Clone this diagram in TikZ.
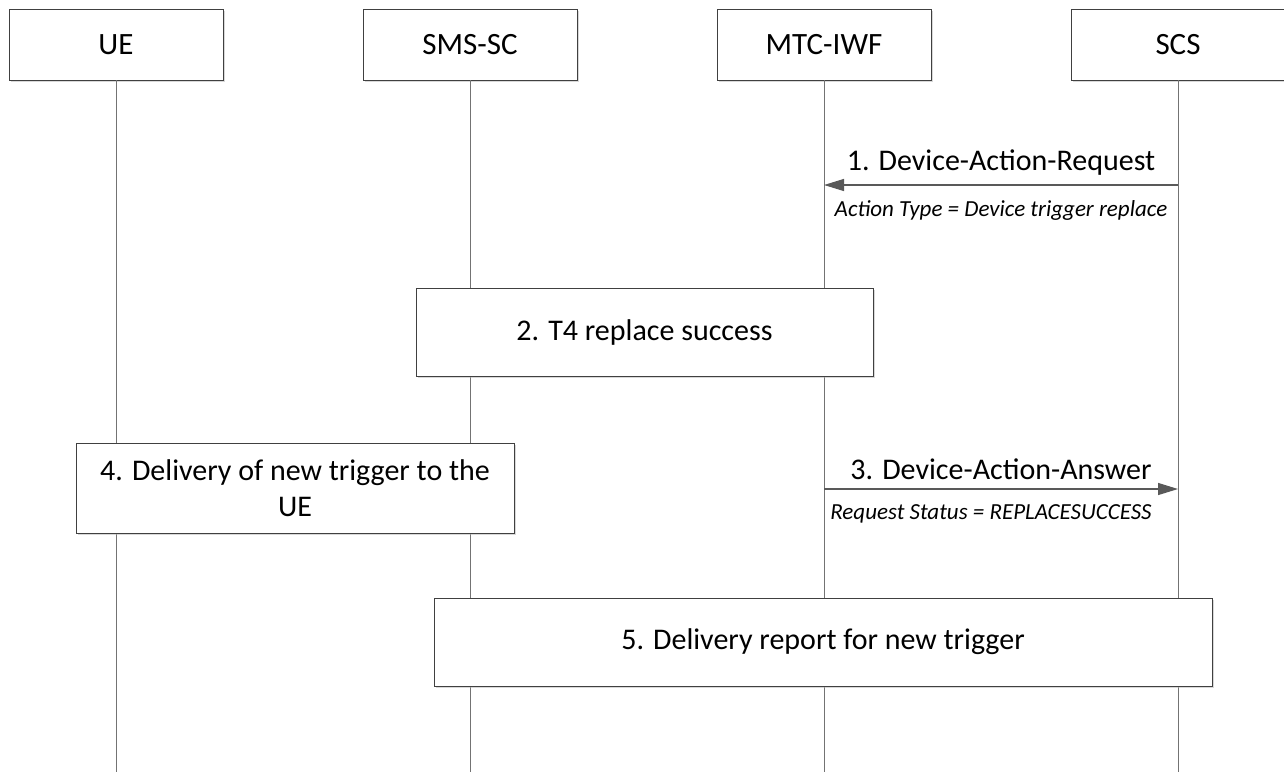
\documentclass[tikz,border=0pt]{standalone}
\usepackage{fontspec}
\setmainfont{Carlito}
\usetikzlibrary{shadows}
\usetikzlibrary{arrows.meta,calc}
\tikzstyle{entity}=[rectangle,draw=black!75,fill=white,drop shadow={shadow xshift=1.2pt,shadow yshift=-1.2pt,fill=black!30},minimum width=107pt,minimum height=35.5pt,inner sep=0pt,font=\fontsize{15.5}{18}\selectfont]
\tikzstyle{actionbox}=[rectangle,draw=black!75,fill=white,drop shadow={shadow xshift=1.2pt,shadow yshift=-1.2pt,fill=black!30},inner sep=0pt,align=center,font=\fontsize{15}{18}\selectfont]
\tikzstyle{lifeline} = [draw,black!55,line width=0.5pt]
\tikzstyle{message} = [draw,black!65,line width=0.6pt,-{Triangle[length=10pt,width=6pt]}]
\tikzstyle{msglabel} = [text=black,font=\fontsize{15}{18}\selectfont]
\tikzstyle{param} = [text=black,font=\fontsize{11.5}{14}\selectfont\itshape]

\begin{document}
\begin{tikzpicture}[x=0.5pt,y=-0.5pt]
    \useasboundingbox (0,0) rectangle (1284,772);
    % First we draw the entities
    \foreach \pos/ \name/ \text in {{116/UE/UE},{470/SMSSC/SMS-SC},{824/MTCIWF/MTC-IWF},{1178/SCS/SCS}}
        \node[entity] (\name) at (\pos,44.5) {\text};

    % Lifelines down to the bottom
    \foreach \name in {UE,SMSSC,MTCIWF,SCS} {
        \coordinate (\name-end) at (\name.south |- 0,772);
        \path[lifeline] (\name.south) -- (\name-end);
    }

    % Messages between MTC-IWF and SCS
    \coordinate (req-scs) at (SCS.south |- 0,185);
    \coordinate (req-iwf) at (MTCIWF.south |- 0,185);
    \path[message] (req-scs) -- node[msglabel,above=1pt] {1. Device-Action-Request}
        node[param,below=4pt] {Action Type = Device trigger replace} (req-iwf);

    \coordinate (ans-iwf) at (MTCIWF.south |- 0,489);
    \coordinate (ans-scs) at (SCS.south |- 0,489);
    \path[message] (ans-iwf) -- node[msglabel,above=1pt] {3. Device-Action-Answer}
        node[param,below=4pt,xshift=-5pt] {Request Status = REPLACESUCCESS} (ans-scs);

    % Procedure boxes on top of the lifelines
    \node[actionbox,minimum width=228.5pt,minimum height=44pt] (replace) at (644.5,332) {2. T4 replace success};
    \node[actionbox,minimum width=219pt,minimum height=45pt] (delivery) at (295,488) {4. Delivery of new trigger to the\\UE};
    \node[actionbox,minimum width=389pt,minimum height=44pt] (report) at (823,642) {5. Delivery report for new trigger};
\end{tikzpicture}
\end{document}
